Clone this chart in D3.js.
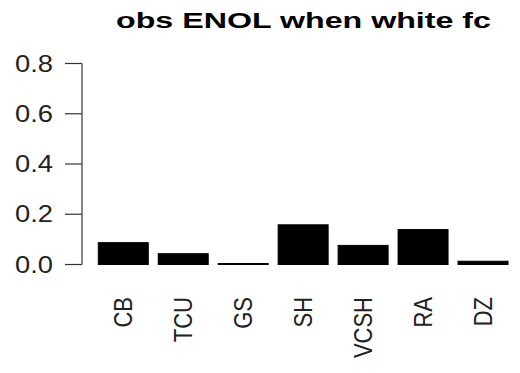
<!DOCTYPE html>
<html>
<head>
<meta charset="utf-8">
<script src="https://cdn.jsdelivr.net/npm/d3@7"></script>
<style>
  body { margin: 0; background: #fff; }
  svg { display: block; font-family: "Liberation Sans", Arial, sans-serif; }
</style>
</head>
<body>
<svg width="520" height="373"></svg>
<script>
const svg = d3.select("svg");

// data
const categories = ["CB", "TCU", "GS", "SH", "VCSH", "RA", "DZ"];
const values = [0.087, 0.043, 0.004, 0.158, 0.076, 0.139, 0.013];
const yTicks = [0, 0.2, 0.4, 0.6, 0.8];
const title = "obs ENOL when white fc";

// scales (R barplot style: width 1, space 0.2)
const x = d3.scaleBand()
  .domain(categories)
  .range([93.3, 513])
  .paddingInner(1 / 6)
  .paddingOuter(1 / 12);

const y = d3.scaleLinear()
  .domain([0, 0.8])
  .range([264.5, 63.5]);

// title
svg.append("text")
  .attr("x", 303.5)
  .attr("y", 28)
  .attr("text-anchor", "middle")
  .attr("font-size", 22)
  .attr("font-weight", "bold")
  .attr("textLength", 375)
  .attr("lengthAdjust", "spacingAndGlyphs")
  .text(title);

// bars
svg.append("g")
  .selectAll("rect")
  .data(values)
  .join("rect")
  .attr("x", (d, i) => x(categories[i]))
  .attr("y", d => y(d))
  .attr("width", x.bandwidth())
  .attr("height", d => y(0) - y(d))
  .attr("fill", "#000")
  .attr("stroke", "#000")
  .attr("stroke-width", 1);

// y axis, R style: line only spans the ticks
const yAxis = svg.append("g");
yAxis.append("line")
  .attr("x1", 82).attr("x2", 82)
  .attr("y1", y(0)).attr("y2", y(0.8))
  .attr("stroke", "#333")
  .attr("stroke-width", 1.2);

yAxis.selectAll("line.tick")
  .data(yTicks)
  .join("line")
  .attr("class", "tick")
  .attr("x1", 65).attr("x2", 82)
  .attr("y1", d => y(d)).attr("y2", d => y(d))
  .attr("stroke", "#333")
  .attr("stroke-width", 1.2);

yAxis.selectAll("text")
  .data(yTicks)
  .join("text")
  .attr("x", 53)
  .attr("y", d => y(d) + 8)
  .attr("text-anchor", "end")
  .attr("font-size", 23)
  .attr("fill", "#222")
  .attr("textLength", 38)
  .attr("lengthAdjust", "spacingAndGlyphs")
  .text(d => d.toFixed(1));

// x labels, rotated (las = 2)
svg.append("g")
  .selectAll("text")
  .data(categories)
  .join("text")
  .attr("transform", d => `translate(${x(d) + x.bandwidth() / 2 + 8.5},297) scale(1.15,1) rotate(-90)`)
  .attr("text-anchor", "end")
  .attr("font-size", 22)
  .attr("fill", "#222")
  .text(d => d);
</script>
</body>
</html>
